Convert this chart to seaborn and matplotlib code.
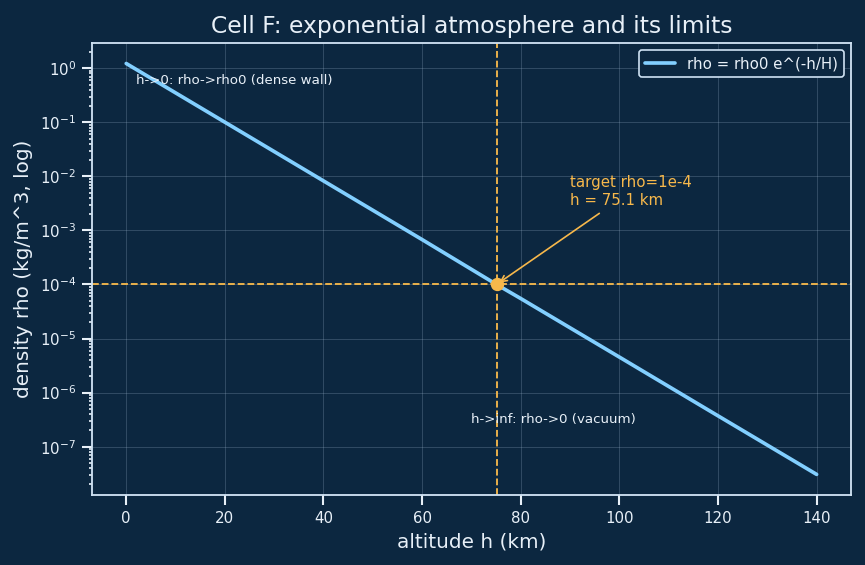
import matplotlib
matplotlib.use("Agg")
import matplotlib.pyplot as plt
import seaborn as sns
import pandas as pd

# Data (straight line on log scale)
altitude_km = [0, 20, 40, 60, 75.1, 80, 100, 120, 140]
density = [1.225, 0.1006, 0.00825, 0.000677, 1.0e-4, 5.5e-5, 4.54e-6, 3.72e-7, 3.07e-8]
target_h = 75.1
target_rho = 1e-4

BG = "#0c2740"
FG = "#e8f0f8"
LINE = "#82cfff"
ORANGE = "#f7b84b"

sns.set_theme(style="darkgrid")
plt.rcParams["font.family"] = ["DejaVu Sans"]

DPI = 120
fig, ax = plt.subplots(figsize=(865 / DPI, 565 / DPI), dpi=DPI)
fig.patch.set_facecolor(BG)
ax.set_facecolor(BG)

df = pd.DataFrame({"h": altitude_km, "rho": density})
sns.lineplot(data=df, x="h", y="rho", ax=ax, color=LINE, linewidth=2.2,
             label="rho = rho0 e^(-h/H)")
ax.set_yscale("log")

ax.axvline(target_h, color=ORANGE, linestyle="--", linewidth=1.1)
ax.axhline(target_rho, color=ORANGE, linestyle="--", linewidth=1.1)
ax.plot([target_h], [target_rho], "o", color=ORANGE, markersize=7, zorder=5)
ax.annotate("target rho=1e-4\nh = 75.1 km", xy=(target_h, target_rho),
            xytext=(90, 3e-3), color=ORANGE, fontsize=9,
            arrowprops=dict(arrowstyle="->", color=ORANGE, lw=1.0))

ax.text(2, 0.6, "h->0: rho->rho0 (dense wall)", color=FG, fontsize=8, va="center")
ax.text(70, 3.2e-7, "h->inf: rho->0 (vacuum)", color=FG, fontsize=8, va="center")

ax.grid(True, color="#9fb6cc", alpha=0.25, linewidth=0.6)
ax.grid(False, which="minor")
for s in ax.spines.values():
    s.set_visible(True)
    s.set_color("#cfe2f3")
    s.set_linewidth(1.1)
ax.tick_params(colors=FG, labelsize=9, which="both", left=True, bottom=True)
ax.tick_params(which="minor", left=True, length=2)
ax.set_title("Cell F: exponential atmosphere and its limits", color=FG, fontsize=14)
ax.set_xlabel("altitude h (km)", color=FG, fontsize=12)
ax.set_ylabel("density rho (kg/m^3, log)", color=FG, fontsize=12)

leg = ax.legend(loc="upper right", facecolor=BG, edgecolor="#cfe2f3", fontsize=9)
for t in leg.get_texts():
    t.set_color(FG)
leg.get_frame().set_alpha(1)

fig.subplots_adjust(left=0.106, right=0.984, top=0.924, bottom=0.124)
fig.savefig("out.png", dpi=DPI, facecolor=BG)
